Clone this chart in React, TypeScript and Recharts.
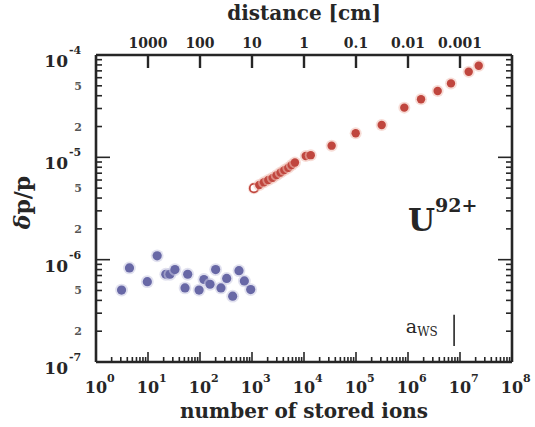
import { ScatterChart, Scatter, XAxis, YAxis, ReferenceDot, ReferenceLine } from "recharts";

// number of stored ions / relative momentum spread (blue: low-N plateau)
const blueIons = [3.1, 4.4, 9.7, 15, 22, 26.5, 33, 51.5, 58, 96, 119, 156, 200, 253, 326, 425, 562, 713, 944];
const blueDpp = [5.05e-7, 8.3e-7, 6.1e-7, 1.09e-6, 7.2e-7, 7.2e-7, 8.0e-7, 5.3e-7, 7.2e-7, 5.05e-7, 6.4e-7, 5.75e-7, 8.0e-7, 5.3e-7, 6.55e-7, 4.4e-7, 7.8e-7, 6.2e-7, 5.1e-7];

// red: cooled beam, rising with N
const redIons = [1090, 1380, 1700, 2060, 2500, 2980, 3560, 4190, 5000, 5800, 6700, 10800, 13500, 34000, 98600, 312000, 849000, 1.78e6, 3.72e6, 6.71e6, 1.47e7, 2.29e7];
const redDpp = [5.0e-6, 5.36e-6, 5.7e-6, 6.0e-6, 6.3e-6, 6.7e-6, 7.1e-6, 7.5e-6, 7.9e-6, 8.4e-6, 8.9e-6, 1.03e-5, 1.05e-5, 1.3e-5, 1.72e-5, 2.07e-5, 3.06e-5, 3.69e-5, 4.45e-5, 5.28e-5, 6.87e-5, 7.86e-5];

// axes
const xMajor = [1, 10, 100, 1e3, 1e4, 1e5, 1e6, 1e7, 1e8];
const xExponents = ["0", "1", "2", "3", "4", "5", "6", "7", "8"];
const yMajor = [1e-7, 1e-6, 1e-5, 1e-4];
const yExponents = ["-7", "-6", "-5", "-4"];
const yMinorLabelled = [2, 5];
const distanceTicks = [10, 100, 1e3, 1e4, 1e5, 1e6, 1e7];
const distanceLabels = ["1000", "100", "10", "1", "0.1", "0.01", "0.001"];

// a_WS marker
const awsIons = 7.7e6;
const awsRange = [1.43e-7, 2.9e-7];

const INK = "#262626";
const FONT = "'DejaVu Serif', serif";
const RED = "#c0463e";
const BLUE = "#6868a6";

const withMinors = (majors: number[]) => {
  const out: number[] = [];
  majors.forEach((m, i) => {
    out.push(m);
    if (i < majors.length - 1) for (let k = 2; k <= 9; k++) out.push(m * k);
  });
  return out;
};

const xTicks = withMinors(xMajor);
const yTicks = withMinors(yMajor);

const mantissa = (v: number) => Math.round(v / Math.pow(10, Math.floor(Math.log10(v) + 1e-9)));
const isMajor = (v: number) => mantissa(v) === 1;

const blueData = blueIons.map((n, i) => ({ n, dpp: blueDpp[i] }));
const redData = redIons.map((n, i) => ({ n, dpp: redDpp[i] }));

const BottomTick = ({ x, y, payload }: any) => {
  const v = payload.value;
  const major = isMajor(v);
  const i = xMajor.findIndex((m) => Math.abs(m - v) / m < 1e-6);
  return (
    <g>
      <line x1={x} x2={x} y1={y} y2={y - (major ? 10 : 5)} stroke={INK} strokeWidth={1.6} />
      {major && i >= 0 && (
        <g fontFamily={FONT} fontWeight="bold" fill={INK}>
          <text x={x} y={y + 31} textAnchor="middle" fontSize={16}>10</text>
          <text x={x + 11} y={y + 20} fontSize={11}>{xExponents[i]}</text>
        </g>
      )}
    </g>
  );
};

const TopTick = ({ x, y, index }: any) => (
  <g>
    <line x1={x} x2={x} y1={y} y2={y + 13} stroke={INK} strokeWidth={2.4} />
    <text x={x} y={y - 7} textAnchor="middle" fontSize={14} fontWeight="bold" fontFamily={FONT} fill={INK}>
      {distanceLabels[index]}
    </text>
  </g>
);

const LeftTick = ({ x, y, payload }: any) => {
  const v = payload.value;
  const m = mantissa(v);
  const i = yMajor.findIndex((t) => Math.abs(t - v) / t < 1e-6);
  return (
    <g fontFamily={FONT} fontWeight="bold" fill={INK}>
      <line x1={x} x2={x + (m === 1 ? 14 : 6)} y1={y} y2={y} stroke={INK} strokeWidth={1.6} />
      {i >= 0 && (
        <>
          <text x={x - 28} y={y + 12} textAnchor="end" fontSize={17}>10</text>
          <text x={x - 27} y={y - 1} fontSize={11}>{yExponents[i]}</text>
        </>
      )}
      {yMinorLabelled.includes(m) && (
        <text x={x - 14} y={y + 4} textAnchor="end" fontSize={11} fill="#555">{m}</text>
      )}
    </g>
  );
};

const RightTick = ({ x, y, payload }: any) => {
  const major = isMajor(payload.value);
  return <line x1={x} x2={x - (major ? 14 : 6)} y1={y} y2={y} stroke={INK} strokeWidth={1.6} />;
};

const dot = (color: string, halo: string, r: number) => (props: any) => {
  const { cx, cy, payload } = props;
  const open = payload && payload.n === redIons[0] && color === RED;
  return (
    <g>
      <circle cx={cx} cy={cy} r={r + 1.8} fill={halo} opacity={0.55} />
      <circle cx={cx} cy={cy} r={r} fill={open ? "#fff" : color} stroke={color} strokeWidth={open ? 1.8 : 0} />
    </g>
  );
};

const YTitle = ({ viewBox }: any) => {
  const { x, y, height } = viewBox;
  const cx = x + 30;
  const cy = y + height / 2 - 6;
  return (
    <text
      x={cx}
      y={cy}
      transform={`rotate(-90 ${cx} ${cy})`}
      textAnchor="middle"
      fontFamily={FONT}
      fontSize={22}
      fontWeight="bold"
      fill={INK}
    >
      <tspan fontStyle="italic">δ</tspan>p/p
    </text>
  );
};

const UionLabel = ({ viewBox }: any) => {
  const { x, y } = viewBox;
  return (
    <text x={x} y={y} fontFamily={FONT} fontWeight="bold" fill={INK}>
      <tspan fontSize={31}>U</tspan>
      <tspan fontSize={19} dy={-19}>92+</tspan>
    </text>
  );
};

const AwsLabel = ({ viewBox }: any) => {
  const { x, y } = viewBox;
  return (
    <text x={x} y={y} fontFamily={FONT} fill={INK}>
      <tspan fontSize={19}>a</tspan>
      <tspan fontSize={12} dy={3}>WS</tspan>
    </text>
  );
};

export default function App() {
  return (
    <div style={{ position: "absolute", left: 0, top: 0, background: "#fff" }}>
      <ScatterChart width={535} height={427} margin={{ top: 0, right: 0, bottom: 0, left: 0 }}>
        <XAxis
          xAxisId="bottom"
          dataKey="n"
          type="number"
          scale="log"
          domain={[1, 1e8]}
          allowDataOverflow
          ticks={xTicks}
          interval={0}
          height={65}
          tickSize={0}
          tickMargin={0}
          tickLine={false}
          axisLine={{ stroke: INK, strokeWidth: 2.6 }}
          tick={<BottomTick />}
          label={{
            value: "number of stored ions",
            position: "insideBottom",
            offset: 9,
            fontSize: 20,
            fontWeight: "bold",
            fontFamily: FONT,
            fill: INK,
          }}
        />
        <XAxis
          xAxisId="top"
          orientation="top"
          dataKey="n"
          type="number"
          scale="log"
          domain={[1, 1e8]}
          allowDataOverflow
          ticks={distanceTicks}
          interval={0}
          height={55}
          tickSize={0}
          tickMargin={0}
          tickLine={false}
          axisLine={{ stroke: INK, strokeWidth: 2.6 }}
          tick={<TopTick />}
          label={{
            value: "distance [cm]",
            position: "insideTop",
            offset: 6,
            fontSize: 20,
            fontWeight: "bold",
            fontFamily: FONT,
            fill: INK,
          }}
        />
        <YAxis
          yAxisId="left"
          dataKey="dpp"
          type="number"
          scale="log"
          domain={[1e-7, 1e-4]}
          allowDataOverflow
          ticks={yTicks}
          interval={0}
          width={96}
          tickSize={0}
          tickMargin={0}
          tickLine={false}
          axisLine={{ stroke: INK, strokeWidth: 2.6 }}
          tick={<LeftTick />}
          label={<YTitle />}
        />
        <YAxis
          yAxisId="right"
          orientation="right"
          dataKey="dpp"
          type="number"
          scale="log"
          domain={[1e-7, 1e-4]}
          allowDataOverflow
          ticks={yTicks}
          interval={0}
          width={23}
          tickSize={0}
          tickMargin={0}
          tickLine={false}
          axisLine={{ stroke: INK, strokeWidth: 2.6 }}
          tick={<RightTick />}
        />
        <Scatter
          xAxisId="bottom"
          yAxisId="left"
          data={blueData}
          fill={BLUE}
          shape={dot(BLUE, "#c9c9e2", 4.6)}
          isAnimationActive={false}
        />
        <Scatter
          xAxisId="bottom"
          yAxisId="left"
          data={redData}
          fill={RED}
          shape={dot(RED, "#f0c0b4", 4.2)}
          isAnimationActive={false}
        />
        <ReferenceLine
          xAxisId="bottom"
          yAxisId="left"
          segment={[
            { x: awsIons, y: awsRange[0] },
            { x: awsIons, y: awsRange[1] },
          ]}
          stroke={INK}
          strokeWidth={1.6}
        />
        <ReferenceDot xAxisId="bottom" yAxisId="left" x={1e6} y={1.9e-6} r={0} stroke="none" label={<UionLabel />} />
        <ReferenceDot xAxisId="bottom" yAxisId="left" x={9.1e5} y={1.91e-7} r={0} stroke="none" label={<AwsLabel />} />
      </ScatterChart>
    </div>
  );
}
